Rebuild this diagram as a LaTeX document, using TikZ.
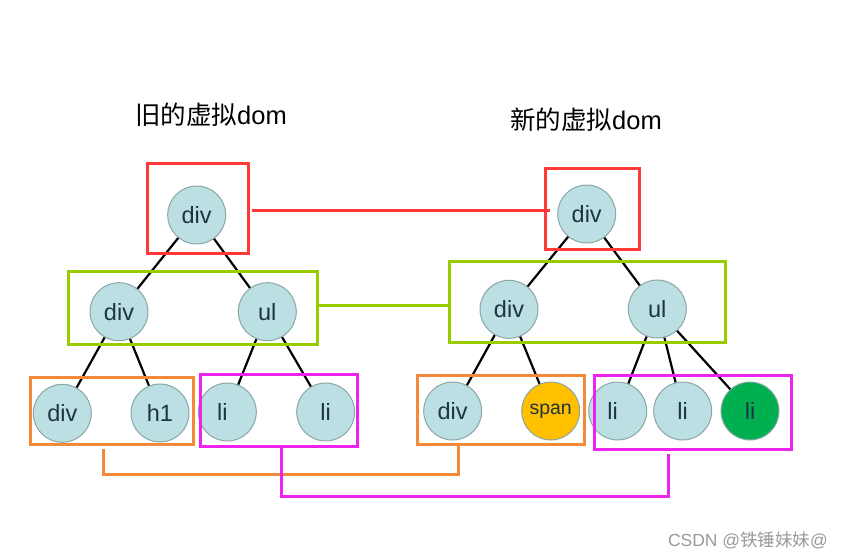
\documentclass[tikz,border=0pt]{standalone}
\usepackage{fontspec}
\setmainfont{Liberation Sans}
\newfontfamily\cjk{Noto Sans CJK SC}
\definecolor{nodefill}{HTML}{BBDFE2}
\definecolor{nodeborder}{HTML}{8AA6A8}
\definecolor{nodetext}{HTML}{1E3440}
\definecolor{spanfill}{HTML}{FFC000}
\definecolor{newfill}{HTML}{00B050}
\definecolor{boxred}{HTML}{FF3838}
\definecolor{boxgreen}{HTML}{99CC00}
\definecolor{boxorange}{HTML}{F5893A}
\definecolor{boxmag}{HTML}{EE22EE}
\definecolor{wmgray}{HTML}{9A9A9A}
\begin{document}
\begin{tikzpicture}[x=1pt,y=-1pt,
  vnode/.style={circle, draw=nodeborder, line width=1pt, fill=nodefill, minimum size=58pt, inner sep=0pt, font=\fontsize{23.5}{23.5}\selectfont, text=nodetext},
  treeedge/.style={draw=black, line width=2.2pt},
  grp/.style={draw, line width=3pt, inner sep=0pt, fill=none},
  link/.style={line width=3pt},
  title/.style={font=\fontsize{25.5}{25.5}\selectfont, text=black, inner sep=0pt},
]
\useasboundingbox (0,0) rectangle (844,559);

% titles
\node[title] (t1) at (211,115) {{\cjk 旧的虚拟}dom};
\node[title] (t2) at (586,120) {{\cjk 新的虚拟}dom};

% old tree
\node[vnode] (o1) at (196.7,215) {div};
\node[vnode] (o2) at (119,311.7) {div};
\node[vnode] (o3) at (267.3,311.7) {ul};
\node[vnode] (o4) at (62.3,413.3) {div};
\node[vnode] (o5) at (160,413) {h1};
\node[vnode] (o6) at (227.3,412) {\hspace*{-10pt}li};
\node[vnode] (o7) at (325.7,412) {li};

% new tree
\node[vnode] (n1) at (586.7,214) {div};
\node[vnode] (n2) at (509,309.3) {div};
\node[vnode] (n3) at (657.3,309) {ul};
\node[vnode] (n4) at (452.7,411) {div};
\node[vnode, fill=spanfill, font=\fontsize{19.5}{19.5}\selectfont] (n5) at (550.7,411) {span};
\node[vnode] (n6) at (617.7,411) {\hspace*{-10pt}li};
\node[vnode] (n7) at (682.7,411) {li};
\node[vnode, fill=newfill] (n8) at (750,411) {li};

% edges
\draw[treeedge] (o1) -- (o2);
\draw[treeedge] (o1) -- (o3);
\draw[treeedge] (o2) -- (o4);
\draw[treeedge] (o2) -- (o5);
\draw[treeedge] (o3) -- (o6);
\draw[treeedge] (o3) -- (o7);
\draw[treeedge] (n1) -- (n2);
\draw[treeedge] (n1) -- (n3);
\draw[treeedge] (n2) -- (n4);
\draw[treeedge] (n2) -- (n5);
\draw[treeedge] (n3) -- (n6);
\draw[treeedge] (n3) -- (n7);
\draw[treeedge] (n3) -- (n8);

% group boxes
\node[grp, draw=boxred, minimum width=100.6pt, minimum height=90pt] (redL) at (198,208.3) {};
\node[grp, draw=boxgreen, minimum width=249.4pt, minimum height=72.6pt] (grnL) at (193,308) {};
\node[grp, draw=boxorange, minimum width=163pt, minimum height=67.3pt] (orgL) at (111.5,411.3) {};
\node[grp, draw=boxmag, minimum width=156.7pt, minimum height=72pt] (magL) at (279.3,410) {};
\node[grp, draw=boxred, minimum width=94.3pt, minimum height=81pt] (redR) at (592.2,208.8) {};
\node[grp, draw=boxgreen, minimum width=275.7pt, minimum height=80.6pt] (grnR) at (587.8,302) {};
\node[grp, draw=boxorange, minimum width=166.7pt, minimum height=69.3pt] (orgR) at (500.7,410.3) {};
\node[grp, draw=boxmag, minimum width=196.7pt, minimum height=74.3pt] (magR) at (693.3,412.8) {};

% links between old and new groups
\draw[link, boxred] ([shift={(2,2.7)}]redL.east) -- ([shift={(6,2.2)}]redR.west);
\draw[link, boxgreen] ([shift={(0,-2.3)}]grnL.east) -- ([shift={(0,3.7)}]grnR.west);
\draw[link, boxorange] ([shift={(-8,3)}]orgL.south) -- ++(0,25) -| ([shift={(-42,0)}]orgR.south);
\draw[link, boxmag] ([shift={(1.7,0)}]magL.south) -- ++(0,49) -| ([shift={(-25.3,3)}]magR.south);

% watermark
\node[font=\fontsize{17.5}{17.5}\selectfont, text=wmgray, inner sep=0pt] (wm) at (748,540.7) {CSDN @{\cjk 铁锤妹妹}@};
\end{tikzpicture}
\end{document}
